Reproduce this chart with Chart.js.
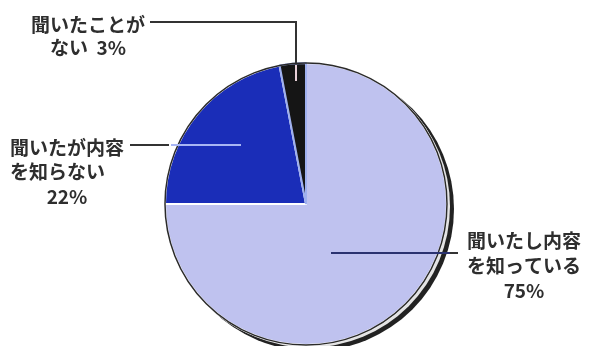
<!DOCTYPE html>
<html>
<head>
<meta charset="utf-8">
<script src="https://cdn.jsdelivr.net/npm/chart.js@4"></script>
<style>
  html, body { margin: 0; padding: 0; background: #fff; }
  #wrap { width: 596px; height: 346px; }
</style>
</head>
<body>
<div id="wrap"><canvas id="pieChart" width="596" height="346"></canvas></div>
<script>
// Survey answers, clockwise from 12 o'clock
const categories = ['聞いたし内容を知っている', '聞いたが内容を知らない', '聞いたことがない'];
const shares = [75, 22, 3];
const sliceColors = ['#bfc2ef', '#1a2db8', '#151515'];

// Callout text, one line per entry
const labelKnown = ['聞いたし内容', 'を知っている', '75%'];
const labelHeardOnly = ['聞いたが内容', 'を知らない', '22%'];
const labelNever = ['聞いたことが', 'ない  3%'];

document.addEventListener('DOMContentLoaded', () => {
  const font = 'bold 19px "Noto Sans CJK JP", "Noto Sans", sans-serif';

  // dark rim + drop shadow under the pie
  const shadowPlugin = {
    id: 'pieShadow',
    beforeDatasetsDraw(chart) {
      const arc = chart.getDatasetMeta(0).data[0];
      if (!arc) return;
      const { x, y, outerRadius } = arc.getProps(['x', 'y', 'outerRadius'], true);
      const ctx = chart.ctx;
      ctx.save();
      ctx.fillStyle = '#222';
      ctx.beginPath();
      ctx.arc(x + 6, y + 5, outerRadius + 1, 0, Math.PI * 2);
      ctx.fill();
      ctx.fillStyle = '#e4e4e4';
      ctx.beginPath();
      ctx.arc(x + 3, y + 2.5, outerRadius, 0, Math.PI * 2);
      ctx.fill();
      ctx.restore();
    },
    afterDatasetsDraw(chart) {
      const arc = chart.getDatasetMeta(0).data[0];
      if (!arc) return;
      const { x, y, outerRadius } = arc.getProps(['x', 'y', 'outerRadius'], true);
      const ctx = chart.ctx;
      ctx.save();
      ctx.strokeStyle = '#2a2a2a';
      ctx.lineWidth = 1.5;
      ctx.beginPath();
      ctx.arc(x, y, outerRadius, 0, Math.PI * 2);
      ctx.stroke();
      ctx.restore();
    }
  };

  // callout labels and leader lines
  const calloutPlugin = {
    id: 'callouts',
    afterDraw(chart) {
      const arc = chart.getDatasetMeta(0).data[0];
      if (!arc) return;
      const { x: cx, y: cy, outerRadius: r } = arc.getProps(['x', 'y', 'outerRadius'], true);
      const ctx = chart.ctx;
      ctx.save();
      ctx.lineWidth = 2;

      const seg = (x1, y1, x2, y2, color) => {
        ctx.strokeStyle = color;
        ctx.beginPath();
        ctx.moveTo(x1, y1);
        ctx.lineTo(x2, y2);
        ctx.stroke();
      };

      // 3% leader
      const vx = cx - 10;
      seg(150, 22, vx, 22, '#333');
      seg(vx, 21, vx, cy - r, '#333');
      seg(vx, cy - r + 2, vx, cy - r + 18, '#e8d0d8');

      // 22% leader
      seg(130, 145, cx - r + 4, 145, '#333');
      seg(cx - r + 6, 145, cx - 65, 145, '#a8b6f4');

      // 75% leader
      seg(cx + 25, 253, cx + r + 3, 253, '#2a3270');
      seg(cx + r + 3, 253, 458, 253, '#333');

      ctx.font = font;
      ctx.fillStyle = '#2e2e2e';
      ctx.textBaseline = 'middle';

      ctx.textAlign = 'center';
      labelNever.forEach((t, i) => ctx.fillText(t, 88, 25 + i * 23));

      ctx.textAlign = 'left';
      ctx.fillText(labelHeardOnly[0], 10, 148);
      ctx.fillText(labelHeardOnly[1], 10, 172);
      ctx.textAlign = 'center';
      ctx.fillText(labelHeardOnly[2], 67, 197);

      labelKnown.forEach((t, i) => ctx.fillText(t, 524, 241 + i * 25));
      ctx.restore();
    }
  };

  const pieData = {
    labels: categories,
    datasets: [{
      data: shares,
      backgroundColor: sliceColors,
      borderColor: ['#ffffff', '#ffffff', '#9fb0ee'],
      borderWidth: 2
    }]
  };

  const pieContext = document.getElementById('pieChart').getContext('2d');

  new Chart(pieContext, {
    type: 'pie',
    data: pieData,
    options: {
      responsive: false,
      animation: false,
      layout: { padding: { left: 16, top: 62, bottom: 0, right: 0 } },
      plugins: {
        legend: { display: false },
        tooltip: { enabled: false }
      }
    },
    plugins: [shadowPlugin, calloutPlugin]
  });
});
</script>
</body>
</html>
